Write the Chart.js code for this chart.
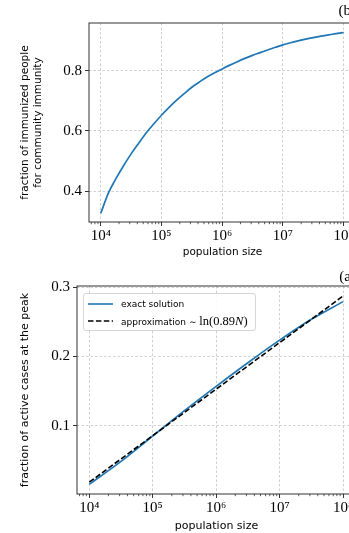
<!DOCTYPE html>
<html><head><meta charset="utf-8">
<script src="https://cdn.jsdelivr.net/npm/chart.js@4"></script>
<style>
html,body{margin:0;padding:0;background:#fff;width:349px;height:533px;overflow:hidden;}
#wrap{position:relative;width:349px;height:533px;overflow:hidden;}
canvas{position:absolute;left:0;}
#c1{top:0;}
#c2{top:266px;}
.legend{position:absolute;left:83px;top:293px;width:173px;height:38px;box-sizing:border-box;border:1px solid #d6d6d6;border-radius:3px;background:rgba(255,255,255,0.85);font-family:"DejaVu Sans",sans-serif;font-size:9px;color:#000;}
.row{position:absolute;left:0;height:14px;width:100%;}
.row svg{position:absolute;left:4px;top:0;}
.row .t{position:absolute;left:37px;top:0;line-height:14px;white-space:nowrap;}
.m{font-family:"Liberation Serif","DejaVu Serif",serif;font-size:12.5px;}
</style></head>
<body>
<div id="wrap">
<canvas id="c1" width="362" height="266"></canvas>
<canvas id="c2" width="362" height="267"></canvas>
<div class="legend">
  <div class="row" style="top:2.7px"><svg width="26" height="14"><line x1="0" y1="7" x2="25" y2="7" stroke="#1f77b4" stroke-width="1.6"/></svg><span class="t">exact solution</span></div>
  <div class="row" style="top:20px"><svg width="26" height="14"><line x1="0" y1="7" x2="25" y2="7" stroke="#000" stroke-width="1.6" stroke-dasharray="5.5,2.4"/></svg><span class="t">approximation ∼ <span class="m">ln(0.89<i>N</i>)</span></span></div>
</div>
</div>
<script>
// ---- data ----
const popSizeTop = [
  1e4, 1.334e4, 1.778e4, 2.371e4, 3.162e4, 4.217e4, 5.623e4, 7.499e4,
  1e5, 1.334e5, 1.778e5, 2.371e5, 3.162e5, 4.217e5, 5.623e5, 7.499e5,
  1e6, 1.334e6, 1.778e6, 2.371e6, 3.162e6, 4.217e6, 5.623e6, 7.499e6,
  1e7, 1.334e7, 1.778e7, 2.371e7, 3.162e7, 4.217e7, 5.623e7, 7.499e7,
  1e8
];
const immunizedFraction = [
  0.326, 0.393, 0.441, 0.484, 0.5235, 0.559, 0.5935, 0.6235,
  0.652, 0.678, 0.702, 0.724, 0.745, 0.7625, 0.779, 0.793,
  0.806, 0.8185, 0.830, 0.841, 0.851, 0.860, 0.869, 0.8778,
  0.886, 0.8928, 0.899, 0.9048, 0.910, 0.9148, 0.919, 0.9232,
  0.927
];

const popSizeExact = [1e4, 3.162e4, 1e5, 3.162e5, 1e6, 3.162e6, 1e7, 3.162e7, 1e8];
const exactPeak = [0.016, 0.049, 0.0855, 0.122, 0.157, 0.191, 0.2235, 0.2535, 0.279];

const popSizeApprox = [1e4, 1e5, 1e6, 1e7, 1e8];
const approxPeak = [0.019, 0.086, 0.153, 0.220, 0.287];

const xTickValues = [1e4, 1e5, 1e6, 1e7, 1e8];
const xTickLabels = ['10⁴', '10⁵', '10⁶', '10⁷', '10⁸'];
const yTicksTop = [0.4, 0.6, 0.8];
const yTicksBottom = [0.1, 0.2, 0.3];

const seriesLabels = ['exact solution', 'approximation ∼ ln(0.89N)'];

// ---- helpers ----
const FRAME = '#333';
const GRID = '#c4c4c4';
const TICKFONT = {family: '"Liberation Serif","DejaVu Serif",serif', size: 15};

const framePlugin = {
  id: 'frame',
  afterDatasetsDraw(chart) {
    const {ctx, chartArea: a, scales: {x}} = chart;
    ctx.save();
    ctx.strokeStyle = FRAME;
    ctx.lineWidth = 1;
    ctx.strokeRect(a.left, a.top, a.right - a.left, a.bottom - a.top);
    // minor log ticks
    ctx.lineWidth = 0.8;
    ctx.beginPath();
    for (let k = 3; k <= 8; k++) {
      for (let m = 2; m <= 9; m++) {
        const v = m * Math.pow(10, k);
        if (v < x.min || v > x.max) continue;
        const px = x.getPixelForValue(v);
        ctx.moveTo(px, a.bottom);
        ctx.lineTo(px, a.bottom + 2.2);
      }
    }
    ctx.stroke();
    ctx.restore();
  }
};

function xScale(titleFont, titlePad) {
  return {
    type: 'logarithmic',
    min: 6400, max: 1.6e8,
    afterBuildTicks: s => { s.ticks = xTickValues.map(v => ({value: v})); },
    ticks: {
      font: TICKFONT, color: '#000', padding: 1, maxRotation: 0, autoSkip: false,
      callback: (v) => { const i = xTickValues.indexOf(v); return i >= 0 ? xTickLabels[i] : ''; }
    },
    grid: {color: GRID, lineWidth: 0.8, tickLength: 4, tickColor: FRAME, tickWidth: 1},
    border: {display: false, dash: [2.5, 2]},
    title: {display: true, text: 'population size', color: '#000',
            font: {family: '"DejaVu Sans",sans-serif', size: titleFont}, padding: {top: 0, bottom: titlePad}}
  };
}

function yScale(min, max, ticks, title, titleFont, lh, width) {
  return {
    type: 'linear', min, max,
    afterBuildTicks: s => { s.ticks = ticks.map(v => ({value: v})); },
    afterFit: s => { s.width = width; },
    ticks: {font: TICKFONT, color: '#000', padding: 3, callback: v => v.toFixed(1)},
    grid: {color: GRID, lineWidth: 0.8, tickLength: 4, tickColor: FRAME, tickWidth: 1},
    border: {display: false, dash: [2.5, 2]},
    title: {display: true, text: title, color: '#000',
            font: {family: '"DejaVu Sans",sans-serif', size: titleFont, lineHeight: lh}, padding: {top: 18.4, bottom: 0}}
  };
}

// ---- top chart (b) ----
const xTop = xScale(10.5, 7.7);
xTop.afterFit = s => { s.height = 44; };
new Chart(document.getElementById('c1'), {
  type: 'line',
  data: {
    datasets: [{
      data: popSizeTop.map((n, i) => ({x: n, y: immunizedFraction[i]})),
      borderColor: '#1f77b4', borderWidth: 1.7, pointRadius: 0, fill: false,
      cubicInterpolationMode: 'monotone'
    }]
  },
  options: {
    responsive: false, animation: false, events: [],
    layout: {padding: {left: 0, right: 6, top: 0, bottom: 0}},
    plugins: {
      legend: {display: false}, tooltip: {enabled: false},
      title: {display: true, text: '(b)', align: 'end', color: '#000',
              font: {family: '"Liberation Serif","DejaVu Serif",serif', size: 15, weight: 'normal', lineHeight: 1.2},
              padding: {top: 2, bottom: 3}}
    },
    scales: {
      x: xTop,
      y: yScale(0.297, 0.9586, yTicksTop, ['fraction of immunized people', 'for community immunity'], 10.5, 1.25, 89)
    }
  },
  plugins: [framePlugin]
});

// ---- bottom chart (a) ----
const xBot = xScale(11, 0);
xBot.afterFit = s => { s.height = 39; };
new Chart(document.getElementById('c2'), {
  type: 'line',
  data: {
    datasets: [
      {
        label: seriesLabels[0],
        data: popSizeExact.map((n, i) => ({x: n, y: exactPeak[i]})),
        borderColor: '#1f77b4', borderWidth: 1.7, pointRadius: 0, fill: false,
        cubicInterpolationMode: 'monotone', order: 2
      },
      {
        label: seriesLabels[1],
        data: popSizeApprox.map((n, i) => ({x: n, y: approxPeak[i]})),
        borderColor: '#000', borderWidth: 1.6, borderDash: [5.5, 2.4], pointRadius: 0, fill: false,
        tension: 0, order: 1
      }
    ]
  },
  options: {
    responsive: false, animation: false, events: [],
    layout: {padding: {left: 0, right: 6, top: 0, bottom: 0}},
    plugins: {
      legend: {display: false}, tooltip: {enabled: false},
      title: {display: true, text: '(a)', align: 'end', color: '#000',
              font: {family: '"Liberation Serif","DejaVu Serif",serif', size: 15, weight: 'normal', lineHeight: 1.2},
              padding: {top: 2, bottom: 0}}
    },
    scales: {
      x: xBot,
      y: yScale(0.002, 0.3015, yTicksBottom, 'fraction of active cases at the peak', 11, 1.2, 77)
    }
  },
  plugins: [framePlugin]
});
</script>
</body></html>
